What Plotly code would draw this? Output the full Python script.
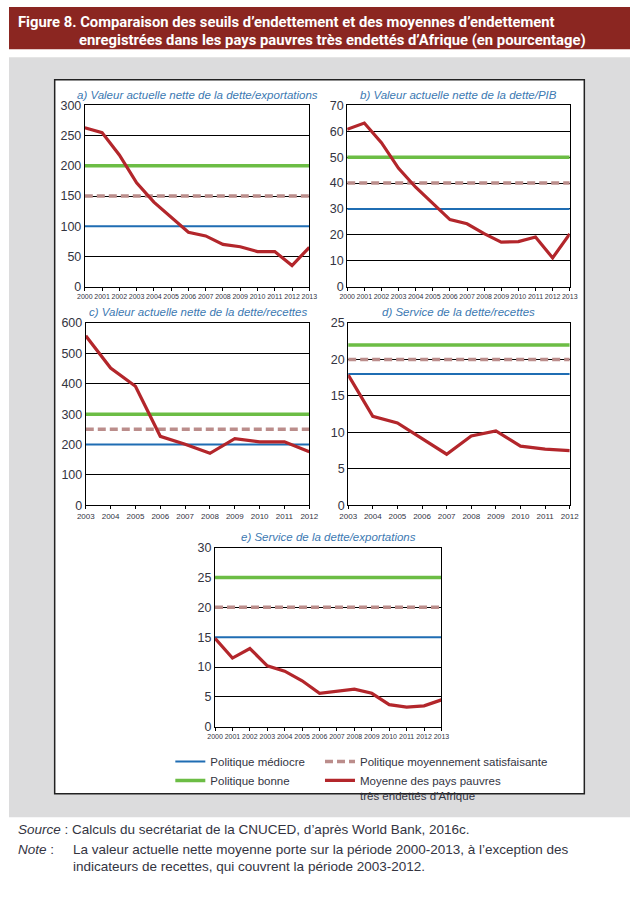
import plotly.graph_objects as go

W, H = 639, 911

# ---------------- data ----------------
years_long = list(range(2000, 2014))
years_short = list(range(2003, 2013))

van_exportations = [263, 255, 218, 172, 140, 115, 90, 84, 70, 66, 58, 58, 35, 65]
van_pib = [60.8, 63.2, 55.6, 45.7, 38.4, 32.3, 25.9, 24.3, 20.5, 17.2, 17.4, 19.2, 11.1, 20.4]
van_recettes = [558, 452, 392, 227, 201, 171, 219, 209, 209, 176]
service_recettes = [17.9, 12.2, 11.3, 9.1, 7.0, 9.5, 10.2, 8.1, 7.7, 7.5]
service_exportations = [14.8, 11.5, 13.1, 10.2, 9.3, 7.7, 5.6, 5.9, 6.3, 5.6, 3.7, 3.3, 3.5, 4.5]

panel_titles = [
    "a) Valeur actuelle nette de la dette/exportations",
    "b) Valeur actuelle nette de la dette/PIB",
    "c) Valeur actuelle nette de la dette/recettes",
    "d) Service de la dette/recettes",
    "e) Service de la dette/exportations",
]
seuil_mediocre = [100, 30, 200, 18, 15]
seuil_moyenne = [150, 40, 250, 20, 20]
seuil_bonne = [200, 50, 300, 22, 25]
y_max = [300, 70, 600, 25, 30]
y_step = [50, 10, 100, 5, 5]

series_names = [
    "Politique médiocre",
    "Politique moyennement satisfaisante",
    "Politique bonne",
    "Moyenne des pays pauvres<br>très endettés d’Afrique",
]

panel_years = [years_long, years_long, years_short, years_short, years_long]
panel_values = [van_exportations, van_pib, van_recettes, service_recettes, service_exportations]

# ---------------- layout helpers ----------------
def fx(x):
    return x / W

def fy(y):
    return 1 - y / H

# pixel boxes (x0, x1, ytop, ybottom)
boxes = [
    (78, 309, 100, 284),
    (348, 577, 100, 284),
    (79, 309, 321, 506),
    (349, 577, 321, 506),
    (212, 445, 549, 731),
]

C_MED = "#1f6db3"
C_MOY = "#bb8d8b"
C_BON = "#6cbd45"
C_AVG = "#b3262b"
TXT = "#33343f"
TITLE_C = "#3c79b2"
FONT = "Liberation Sans, Arial, sans-serif"

fig = go.Figure()

for i in range(5):
    ax = "" if i == 0 else str(i + 1)
    xr = "x" + ax
    yr = "y" + ax
    yrs = panel_years[i]
    n = len(yrs)
    first = i == 0
    fig.add_trace(go.Scatter(x=yrs, y=[seuil_mediocre[i]] * n, mode="lines",
                             line=dict(color=C_MED, width=2), name=series_names[0],
                             xaxis=xr, yaxis=yr, showlegend=first, legend="legend",
                             legendrank=1, hoverinfo="skip"))
    fig.add_trace(go.Scatter(x=yrs, y=[seuil_moyenne[i]] * n, mode="lines",
                             line=dict(color=C_MOY, width=3.5, dash="8px,4px"), name=series_names[1],
                             xaxis=xr, yaxis=yr, showlegend=first, legend="legend2",
                             legendrank=1, hoverinfo="skip"))
    fig.add_trace(go.Scatter(x=yrs, y=[seuil_bonne[i]] * n, mode="lines",
                             line=dict(color=C_BON, width=3.5), name=series_names[2],
                             xaxis=xr, yaxis=yr, showlegend=first, legend="legend",
                             legendrank=2, hoverinfo="skip"))
    fig.add_trace(go.Scatter(x=yrs, y=panel_values[i], mode="lines",
                             line=dict(color=C_AVG, width=3.2), name=series_names[3],
                             xaxis=xr, yaxis=yr, showlegend=first, legend="legend2",
                             legendrank=2, hoverinfo="skip"))

    x0, x1, yt, yb = boxes[i]
    xfs = 7 if n > 10 else 8
    fig.layout["xaxis" + ax] = dict(
        domain=[fx(x0), fx(x1)], anchor=yr, range=[yrs[0], yrs[-1]],
        tickmode="array", tickvals=yrs, ticktext=[str(v) for v in yrs],
        ticks="outside", ticklen=3, tickcolor="#000", tickwidth=1,
        showline=True, linecolor="#000", linewidth=1, mirror=True,
        showgrid=False, zeroline=False, tickangle=0,
        tickfont=dict(size=xfs, color=TXT, family=FONT), fixedrange=True,
    )
    fig.layout["yaxis" + ax] = dict(
        domain=[fy(yb), fy(yt)], anchor=xr, range=[0, y_max[i]], dtick=y_step[i],
        tick0=0, showline=True, linecolor="#000", linewidth=1, mirror=True,
        showgrid=True, gridcolor="#000", gridwidth=1, zeroline=False, ticks="",
        tickfont=dict(size=12.5, color=TXT, family=FONT), fixedrange=True,
    )
    fig.add_annotation(x=fx((x0 + x1) / 2), y=fy(yt - 3), xref="paper", yref="paper",
                       text="<i>" + panel_titles[i] + "</i>", showarrow=False,
                       xanchor="center", yanchor="bottom",
                       font=dict(size=11.5, color=TITLE_C, family=FONT))

shapes = [
    dict(type="rect", xref="paper", yref="paper", x0=0, x1=1, y0=fy(823), y1=fy(51),
         fillcolor="#dcdcdd", line=dict(width=0), layer="below"),
    dict(type="rect", xref="paper", yref="paper", x0=0, x1=1, y0=fy(43), y1=1,
         fillcolor="#8b2621", line=dict(width=0), layer="below"),
    dict(type="rect", xref="paper", yref="paper", x0=fx(47), x1=fx(592), y0=fy(799), y1=fy(74),
         fillcolor="#ffffff", line=dict(color="#222", width=1.5), layer="below"),
]

HF = "Roboto, Liberation Sans, sans-serif"
anns = [
    dict(x=fx(7), y=fy(15), text="<b>Figure 8. Comparaison des seuils d’endettement et des moyennes d’endettement</b>",
         font=dict(size=14.8, color="#ffffff", family=HF)),
    dict(x=fx(70), y=fy(34), text="<b>enregistrées dans les pays pauvres très endettés d’Afrique (en pourcentage)</b>",
         font=dict(size=14.8, color="#ffffff", family=HF)),
    dict(x=fx(7), y=fy(835), text="<i>Source</i> : Calculs du secrétariat de la CNUCED, d’après World Bank, 2016c.",
         font=dict(size=13.5, color=TXT, family=FONT)),
    dict(x=fx(7), y=fy(856), text="<i>Note</i> :",
         font=dict(size=13.5, color=TXT, family=FONT)),
    dict(x=fx(64), y=fy(856), text="La valeur actuelle nette moyenne porte sur la période 2000-2013, à l’exception des",
         font=dict(size=13.5, color=TXT, family=FONT)),
    dict(x=fx(64), y=fy(873), text="indicateurs de recettes, qui couvrent la période 2003-2012.",
         font=dict(size=13.5, color=TXT, family=FONT)),
]
for a in anns:
    a.update(xref="paper", yref="paper", showarrow=False, xanchor="left", yanchor="middle")
    fig.add_annotation(**a)

leg_common = dict(orientation="v", bgcolor="rgba(0,0,0,0)", borderwidth=0,
                  font=dict(size=11.5, color=TXT, family=FONT),
                  xanchor="left", yanchor="top", itemwidth=30, tracegroupgap=0,
                  valign="top")

fig.update_layout(
    width=W, height=H, margin=dict(l=0, r=0, t=0, b=0),
    paper_bgcolor="#ffffff", plot_bgcolor="#ffffff",
    font=dict(family=FONT, color=TXT),
    shapes=shapes,
    legend=dict(x=fx(166), y=fy(752), **leg_common),
    legend2=dict(x=fx(320), y=fy(752), **leg_common),
)

post = (
    "var g=document.getElementById('{plot_id}');"
    "g.style.position='fixed';g.style.left='0px';g.style.top='0px';"
    "document.documentElement.style.margin='0px';"
    "document.body.style.margin='0px';document.body.style.overflow='hidden';"
)
fig.write_html("out.html", config={"displayModeBar": False}, post_script=post)
